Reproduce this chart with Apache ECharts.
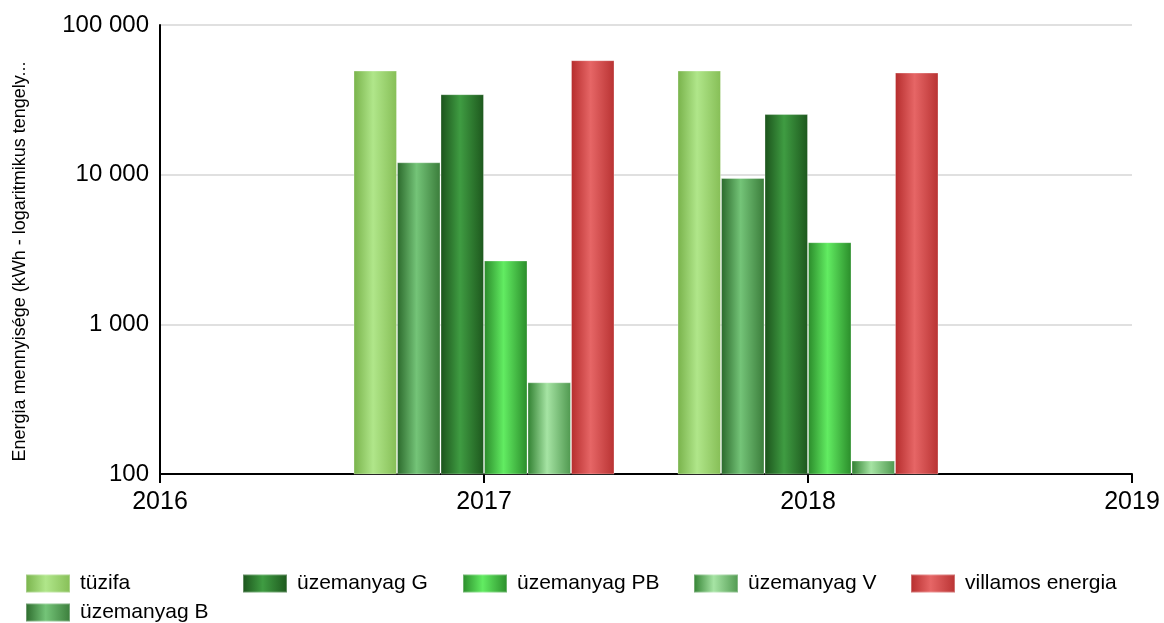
<!DOCTYPE html>
<html>
<head>
<meta charset="utf-8">
<script src="https://cdn.jsdelivr.net/npm/echarts@6/dist/echarts.min.js"></script>
<style>
html,body{margin:0;padding:0;background:#fff;}
#chart{width:1164px;height:623px;}
</style>
</head>
<body>
<div id="chart"></div>
<script>
// ---- data ----
const years = [2017, 2018];
const seriesNames = ['tüzifa', 'üzemanyag B', 'üzemanyag G', 'üzemanyag PB', 'üzemanyag V', 'villamos energia'];
const tuzifa = [49600, 49600];
const uzemanyagB = [12100, 9500];
const uzemanyagG = [34500, 25400];
const uzemanyagPB = [2670, 3540];
const uzemanyagV = [410, 123];
const villamos = [58200, 48100];
const xMin = 2016, xMax = 2019;
const yMin = 100, yMax = 100000;
const yAxisTitle = 'Energia mennyisége (kWh - logaritmikus tengely...';

// ---- styles ----
const FONT = '"Liberation Sans", Arial, sans-serif';
function grad(edgeL, mid, edgeR) {
  return new echarts.graphic.LinearGradient(0, 0, 1, 0, [
    {offset: 0, color: edgeL},
    {offset: 0.45, color: mid},
    {offset: 1, color: edgeR}
  ]);
}
const colors = [
  grad('#78b24a', '#b0e68a', '#86be56'),
  grad('#2a682a', '#74c478', '#3a7c3a'),
  grad('#1b521b', '#3f9c42', '#1d571d'),
  grad('#2a8a2a', '#62ec62', '#2a8c2a'),
  grad('#2f7f2f', '#a6e4a4', '#4f984f'),
  grad('#b52c2c', '#e66666', '#b83232')
];
const values = [tuzifa, uzemanyagB, uzemanyagG, uzemanyagPB, uzemanyagV, villamos];

const series = seriesNames.map((name, i) => ({
  name: name,
  type: 'bar',
  barWidth: 43.5,
  barGap: '0%',
  itemStyle: {color: colors[i], borderColor: 'rgba(255,255,255,0.3)', borderWidth: 1},
  emphasis: {disabled: true},
  data: years.map((y, j) => [y, values[i][j]])
}));

function fmt(v) {
  return String(Math.round(v)).replace(/\B(?=(\d{3})+(?!\d))/g, ' ');
}

// legend slots (layout only): [left, top]
const legendSlots = [[25, 573], [25, 602], [242, 573], [462, 573], [693, 573], [910, 573]];
const legends = seriesNames.map((name, i) => ({
  left: legendSlots[i][0], top: legendSlots[i][1],
  orient: 'horizontal', padding: 0,
  itemWidth: 44, itemHeight: 18, itemGap: 6, icon: 'rect',
  textStyle: {fontFamily: FONT, fontSize: 21, color: '#000', padding: [0, 0, 0, 5]},
  data: [name]
}));

const option = {
  animation: false,
  backgroundColor: '#fff',
  grid: {left: 160, right: 32, top: 25, bottom: 149},
  legend: legends,
  xAxis: {
    type: 'value',
    min: xMin, max: xMax, interval: 1,
    axisLine: {show: true, lineStyle: {color: '#000', width: 2}},
    axisTick: {show: true, length: 9, lineStyle: {color: '#000', width: 2}},
    axisLabel: {fontFamily: FONT, fontSize: 25, color: '#000', margin: 16, formatter: v => String(v)},
    splitLine: {show: false}
  },
  yAxis: {
    type: 'log', logBase: 10,
    min: yMin, max: yMax,
    name: yAxisTitle,
    nameLocation: 'middle',
    nameRotate: 90,
    nameGap: 131,
    nameTextStyle: {fontFamily: FONT, fontSize: 18, color: '#000', padding: [0, 0, 0, -24]},
    axisLine: {show: true, lineStyle: {color: '#000', width: 2}},
    axisTick: {show: false},
    axisLabel: {fontFamily: FONT, fontSize: 24, color: '#000', margin: 11, formatter: fmt},
    splitLine: {show: true, lineStyle: {color: '#e0e0e0', width: 2}}
  },
  series: series
};

const chart = echarts.init(document.getElementById('chart'), null, {renderer: 'canvas'});
chart.setOption(option);
</script>
</body>
</html>
